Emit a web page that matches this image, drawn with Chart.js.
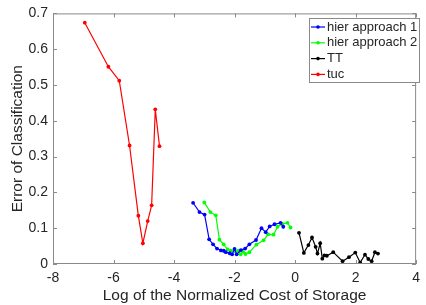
<!DOCTYPE html>
<html><head><meta charset="utf-8">
<script src="https://cdn.jsdelivr.net/npm/chart.js@4"></script>
<style>html,body{margin:0;padding:0;background:#fff}#w{width:426px;height:305px}</style>
</head><body><div id="w"><canvas id="c" width="426" height="305"></canvas></div>
<script>
const seriesNames = ["hier approach 1", "hier approach 2", "TT", "tuc"];
const seriesColors = ["#0000ff", "#00ff00", "#000000", "#ff0000"];

const hier1X = [-3.37,-3.16,-2.99,-2.84,-2.71,-2.58,-2.45,-2.36,-2.29,-2.16,-2.08,-2.00,-1.93,-1.79,-1.65,-1.51,-1.29,-1.11,-0.97,-0.84,-0.68,-0.48,-0.39];
const hier1Y = [0.171,0.145,0.138,0.069,0.055,0.043,0.038,0.037,0.033,0.030,0.027,0.042,0.027,0.039,0.043,0.055,0.067,0.100,0.089,0.105,0.111,0.115,0.104];

const hier2X = [-3.00,-2.80,-2.62,-2.50,-2.36,-2.23,-2.12,-1.99,-1.87,-1.80,-1.72,-1.64,-1.51,-1.28,-1.04,-0.89,-0.71,-0.58,-0.42,-0.25,-0.15];
const hier2Y = [0.172,0.145,0.136,0.068,0.055,0.041,0.037,0.036,0.037,0.027,0.034,0.028,0.033,0.054,0.066,0.083,0.082,0.104,0.112,0.115,0.102];

const ttX = [0.13,0.29,0.44,0.56,0.68,0.74,0.83,0.90,0.97,1.05,1.26,1.57,1.78,1.99,2.15,2.31,2.42,2.53,2.64,2.74];
const ttY = [0.087,0.031,0.053,0.074,0.048,0.029,0.058,0.015,0.024,0.023,0.033,0.008,0.019,0.032,0.004,0.026,0.014,0.008,0.033,0.029];

const tucX = [-6.95,-6.17,-5.81,-5.47,-5.18,-5.03,-4.87,-4.74,-4.62,-4.48];
const tucY = [0.674,0.551,0.512,0.331,0.135,0.058,0.120,0.164,0.432,0.329];

const xTicks = [-8,-6,-4,-2,0,2,4];
const yTicks = [0,0.1,0.2,0.3,0.4,0.5,0.6,0.7];

const allX = [hier1X, hier2X, ttX, tucX];
const allY = [hier1Y, hier2Y, ttY, tucY];

const FONT = "'Liberation Sans', Arial, Helvetica, sans-serif";
const TXT = "#262626";
const AX = "#8a8a8a";

const datasets = seriesNames.map((n, i) => ({
  label: n,
  data: allX[i].map((x, j) => ({x: x, y: allY[i][j]})),
  borderColor: seriesColors[i],
  backgroundColor: seriesColors[i],
  borderWidth: 1.2,
  pointRadius: 1.9,
  pointHoverRadius: 1.9,
  pointBorderWidth: 0,
  showLine: true,
  tension: 0
}));

const frameTicks = {
  id: 'frameTicks',
  afterDraw(chart) {
    const {ctx, chartArea: a, scales} = chart;
    ctx.save();
    ctx.strokeStyle = AX;
    ctx.lineWidth = 1;
    ctx.strokeRect(a.left + 0.5, a.top + 0.5, a.right - a.left - 1, a.bottom - a.top - 1);
    ctx.beginPath();
    const L = 4;
    xTicks.forEach(v => {
      const px = Math.round(scales.x.getPixelForValue(v)) + 0.5;
      ctx.moveTo(px, a.bottom); ctx.lineTo(px, a.bottom - L);
      ctx.moveTo(px, a.top); ctx.lineTo(px, a.top + L);
    });
    yTicks.forEach(v => {
      const py = Math.round(scales.y.getPixelForValue(v)) + 0.5;
      ctx.moveTo(a.left, py); ctx.lineTo(a.left + L, py);
      ctx.moveTo(a.right, py); ctx.lineTo(a.right - L, py);
    });
    ctx.stroke();

    // legend box
    const bx = 309.5, by = 18.5, bw = 110, bh = 64;
    ctx.fillStyle = '#fff';
    ctx.fillRect(bx, by, bw, bh);
    ctx.strokeStyle = AX;
    ctx.strokeRect(bx, by, bw, bh);
    ctx.font = "13px " + FONT;
    ctx.textBaseline = 'middle';
    seriesNames.forEach((n, i) => {
      const cy = 27 + i * 15.8;
      ctx.strokeStyle = seriesColors[i];
      ctx.lineWidth = 1.2;
      ctx.beginPath(); ctx.moveTo(311, cy); ctx.lineTo(325, cy); ctx.stroke();
      ctx.fillStyle = seriesColors[i];
      ctx.beginPath(); ctx.arc(318, cy, 1.8, 0, Math.PI * 2); ctx.fill();
      ctx.fillStyle = TXT;
      ctx.fillText(n, 327, cy);
    });
    ctx.restore();
  }
};

new Chart(document.getElementById('c'), {
  type: 'scatter',
  data: {datasets},
  options: {
    responsive: false,
    animation: false,
    devicePixelRatio: 1,
    layout: {padding: {left: 0, right: 3, top: 13, bottom: 0}},
    plugins: {legend: {display: false}, tooltip: {enabled: false}},
    scales: {
      x: {
        type: 'linear', min: -8, max: 4,
        afterBuildTicks: s => { s.ticks = xTicks.map(v => ({value: v})); },
        afterFit: s => { s.height = 41; },
        grid: {display: false, drawTicks: false},
        border: {display: false},
        ticks: {color: TXT, font: {family: FONT, size: 14}, padding: 6, maxRotation: 0,
                callback: v => String(v)},
        title: {display: true, text: 'Log of the Normalized Cost of Storage', color: TXT,
                font: {family: FONT, size: 15.5}, padding: {top: 0, bottom: 0}}
      },
      y: {
        type: 'linear', min: 0, max: 0.7,
        afterBuildTicks: s => { s.ticks = yTicks.map(v => ({value: v})); },
        afterFit: s => { s.width = 53; },
        grid: {display: false, drawTicks: false},
        border: {display: false},
        ticks: {color: TXT, font: {family: FONT, size: 14}, padding: 5,
                callback: v => String(Math.round(v * 10) / 10)},
        title: {display: true, text: 'Error of Classification', color: TXT,
                font: {family: FONT, size: 15.5}, padding: {top: 8, bottom: 0}}
      }
    }
  },
  plugins: [frameTicks]
});
</script>
</body></html>
